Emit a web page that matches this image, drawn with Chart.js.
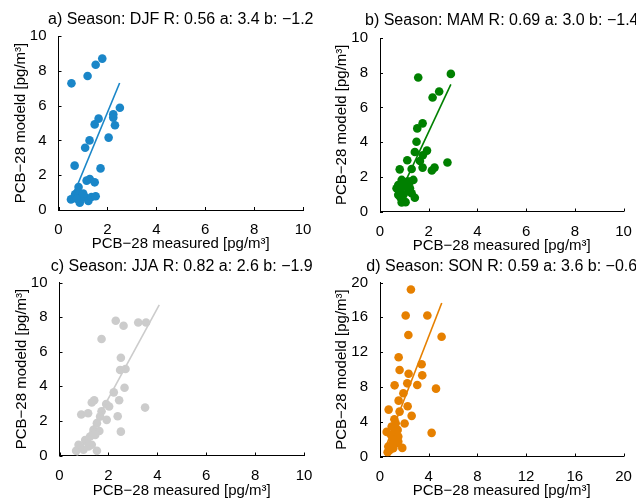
<!DOCTYPE html>
<html lang="en">
  <head>
    <meta charset="UTF-8" />
    <title>PCB-28 measured vs modeled</title>
    <script src="https://cdn.jsdelivr.net/npm/chart.js"></script>
    <style>
      body {
        margin: 0;
        padding: 0;
        background: #ffffff;
      }
      .wrap {
        position: relative;
        width: 636px;
        height: 498px;
        overflow: hidden;
      }
      .wrap canvas {
        position: absolute;
        left: 0;
        top: 0;
      }
    </style>
  </head>
  <body>
    <div class="wrap">
      <canvas id="chartDJF" width="636" height="498"></canvas>
      <canvas id="chartMAM" width="636" height="498"></canvas>
      <canvas id="chartJJA" width="636" height="498"></canvas>
      <canvas id="chartSON" width="636" height="498"></canvas>
    </div>

    <script>
      // values (measured, modeled) in pg/m3
      const measuredDJF = [0.53, 1.19, 1.52, 1.79, 2.51, 2.24, 2.24, 2.31, 1.64, 1.48, 2.05, 1.27, 1.09, 0.66, 1.72, 1.15, 1.28, 1.48, 0.82,
        0.51, 0.68, 0.78, 0.87, 0.97, 0.87, 1.08, 1.22, 1.35, 1.52, 0.74, 1.01];
      const modeledDJF = [7.28, 7.70, 8.35, 8.70, 5.88, 5.50, 5.31, 4.87, 5.25, 4.92, 4.16, 4.00, 3.58, 2.55, 2.39, 1.69, 1.78, 1.59, 1.32,
        0.61, 0.90, 1.03, 0.56, 0.84, 0.42, 0.75, 0.52, 0.75, 0.79, 0.65, 0.94];

      const measuredMAM = [1.57, 2.91, 2.43, 2.16, 1.75, 1.53, 1.50, 1.43, 1.93, 1.76, 1.64, 1.75, 2.24, 2.13, 2.77, 1.12, 0.81, 1.30, 1.43,
        1.37, 1.13, 0.89, 0.75, 1.02, 0.82, 1.16, 0.96, 1.23, 0.75, 0.89, 1.05, 0.68, 1.23, 0.99, 0.86, 1.30];
      const modeledMAM = [7.72, 7.93, 6.92, 6.57, 5.08, 4.79, 4.02, 3.43, 3.51, 3.24, 2.91, 2.53, 2.53, 2.36, 2.82, 2.95, 2.43, 2.45, 0.79,
        1.82, 1.72, 1.82, 1.53, 1.44, 1.15, 1.15, 0.96, 1.34, 0.96, 0.52, 0.54, 1.34, 1.72, 1.67, 0.77, 1.05];

      const measuredJJA = [2.30, 2.62, 3.22, 3.54, 1.72, 2.51, 2.48, 2.70, 2.66, 2.22, 1.42, 1.32, 2.44, 1.91, 2.03, 3.50, 0.89, 1.17, 1.72,
        2.38, 1.93, 1.66, 2.51, 1.53, 1.39, 1.63, 1.25, 1.05, 1.46, 0.84, 0.68, 0.98, 1.19, 1.53, 1.32, 0.78, 1.12];
      const modeledJJA = [7.79, 7.50, 7.69, 7.69, 6.73, 5.65, 4.94, 5.00, 3.92, 3.65, 3.19, 3.06, 3.19, 2.98, 2.83, 2.77, 2.37, 2.44, 2.56,
        2.27, 2.06, 2.25, 1.38, 1.87, 1.48, 1.42, 1.10, 0.90, 1.19, 0.52, 0.27, 0.33, 0.52, 0.27, 0.62, 0.62, 0.81];

      const measuredSON = [2.54, 2.11, 3.89, 2.33, 5.06, 1.53, 3.42, 1.61, 2.35, 3.47, 1.20, 2.24, 3.06, 4.60, 1.92, 1.53, 2.27, 0.71, 1.61,
        2.60, 2.02, 4.24, 1.18, 0.55, 0.96, 1.23, 1.45, 0.90, 1.50, 1.09, 1.37, 0.68, 0.82, 0.63, 1.09, 1.83, 1.50, 1.29, 1.01];
      const modeledSON = [19.2, 16.2, 16.2, 13.96, 13.77, 11.4, 10.6, 9.94, 9.52, 9.33, 8.18, 8.41, 8.22, 7.80, 7.27, 6.42, 5.77, 5.39, 5.16,
        4.67, 3.79, 2.72, 4.28, 2.83, 3.44, 2.87, 3.06, 2.49, 2.29, 1.91, 1.53, 1.15, 0.76, 0.50, 0.96, 0.99, 1.72, 3.82, 1.53];

      // regression coefficients (from the panel titles) and x span of the fit line
      const seasons = ["DJF", "MAM", "JJA", "SON"];
      const fitR = [0.56, 0.69, 0.82, 0.59];
      const fitA = [3.4, 3.0, 2.6, 3.6];
      const fitB = [-1.2, -1.4, -1.9, -0.6];
      const fitSpan = [[0.5, 2.5], [0.7, 2.91], [0.65, 4.08], [0.5, 5.07]];

      const axisMax = [10, 10, 10, 20];
      const tickStep = [2, 2, 2, 4];

      const colors = ["#1a86c8", "#008000", "#cccccc", "#e68000"];

      const FONT = "'Liberation Sans', Arial, Helvetica, sans-serif";
      const TITLE_SIZE = 16;
      const AXIS_SIZE = 15;

      // inward tick marks like matlab axes
      const inwardTicks = {
        id: "inwardTicks",
        afterDraw(chart) {
          const ctx = chart.ctx;
          const xs = chart.scales.x;
          const ys = chart.scales.y;
          const area = chart.chartArea;
          ctx.save();
          ctx.strokeStyle = "#000";
          ctx.lineWidth = 1;
          ctx.beginPath();
          xs.ticks.forEach((t) => {
            const px = Math.round(xs.getPixelForValue(t.value)) + 0.5;
            ctx.moveTo(px, area.bottom);
            ctx.lineTo(px, area.bottom - 3);
          });
          ys.ticks.forEach((t) => {
            const py = Math.round(ys.getPixelForValue(t.value)) + 0.5;
            ctx.moveTo(area.left, py);
            ctx.lineTo(area.left + 3, py);
          });
          ctx.stroke();
          ctx.restore();
        },
      };

      // title sits over the plot area but is wider than it, so give it room both sides
      const wideTitle = {
        id: "wideTitle",
        afterLayout(chart) {
          const tb = chart.titleBlock;
          if (tb) {
            tb.left -= 60;
            tb.right += 60;
          }
        },
      };

      // plot boxes in page pixels: left, right, top, bottom, title centre y, x label centre y
      const boxes = [
        { left: 58.5, right: 303, top: 36, bottom: 210, titleY: 20, xLabelY: 244 },
        { left: 380, right: 623.5, top: 38, bottom: 211.5, titleY: 21, xLabelY: 246 },
        { left: 59.5, right: 304, top: 282.5, bottom: 455.5, titleY: 267, xLabelY: 491 },
        { left: 380, right: 623.5, top: 282.5, bottom: 456.5, titleY: 267, xLabelY: 491 },
      ];

      const titleH = TITLE_SIZE * 1.2;
      const axisH = AXIS_SIZE * 1.2;
      const yAxisW = 47;

      function makePanel(id, i, measured, modeled) {
        const box = boxes[i];
        const letter = "abcd"[i];
        const fmt = (v) => (v < 0 ? "\u2212" + Math.abs(v).toFixed(1) : v.toFixed(1));
        const titleText = letter + ") Season: " + seasons[i] + " R: " + fitR[i].toFixed(2) +
          " a: " + fmt(fitA[i]) + " b: " + fmt(fitB[i]);

        const points = measured.map((m, k) => ({ x: m, y: modeled[k] }));
        const fitLine = fitSpan[i].map((x) => ({ x: x, y: fitA[i] * x + fitB[i] }));

        const padLeft = box.left - yAxisW;
        const padTop = box.titleY - titleH / 2;
        const padBottom = 498 - (box.xLabelY + axisH / 2);

        new Chart(document.getElementById(id), {
          type: "scatter",
          data: {
            datasets: [
              {
                label: "fit",
                type: "line",
                data: fitLine,
                borderColor: colors[i],
                borderWidth: 1.6,
                pointRadius: 0,
                fill: false,
                order: 0,
              },
              {
                label: seasons[i],
                data: points,
                backgroundColor: colors[i],
                borderWidth: 0,
                pointRadius: 4.3,
                order: 1,
              },
            ],
          },
          options: {
            responsive: false,
            animation: false,
            layout: {
              padding: {
                left: padLeft,
                right: 636 - box.right,
                top: padTop,
                bottom: padBottom,
              },
            },
            plugins: {
              legend: { display: false },
              tooltip: { enabled: false },
              title: {
                display: true,
                fullSize: false,
                text: titleText,
                color: "#000",
                font: { family: FONT, size: TITLE_SIZE, weight: "normal" },
                padding: { top: 0, bottom: box.top - padTop - titleH },
              },
            },
            scales: {
              x: {
                type: "linear",
                min: 0,
                max: axisMax[i],
                afterFit: (s) => { s.height = box.xLabelY + axisH / 2 - box.bottom; },
                ticks: {
                  stepSize: tickStep[i],
                  color: "#000",
                  padding: 3,
                  maxRotation: 0,
                  font: { family: FONT, size: AXIS_SIZE },
                },
                grid: { display: false },
                border: { display: true, color: "#000", width: 1 },
                title: {
                  display: true,
                  text: "PCB\u221228 measured [pg/m\u00b3]",
                  color: "#000",
                  font: { family: FONT, size: AXIS_SIZE },
                  padding: 0,
                },
              },
              y: {
                type: "linear",
                min: 0,
                max: axisMax[i],
                afterFit: (s) => { s.width = yAxisW; },
                ticks: {
                  stepSize: tickStep[i],
                  color: "#000",
                  padding: 4,
                  font: { family: FONT, size: AXIS_SIZE },
                },
                grid: { display: false },
                border: { display: true, color: "#000", width: 1 },
                title: {
                  display: true,
                  text: "PCB\u221228 modeld [pg/m\u00b3]",
                  color: "#000",
                  font: { family: FONT, size: AXIS_SIZE },
                  padding: 0,
                },
              },
            },
          },
          plugins: [inwardTicks, wideTitle],
        });
      }

      makePanel("chartDJF", 0, measuredDJF, modeledDJF);
      makePanel("chartMAM", 1, measuredMAM, modeledMAM);
      makePanel("chartJJA", 2, measuredJJA, modeledJJA);
      makePanel("chartSON", 3, measuredSON, modeledSON);
    </script>
  </body>
</html>
